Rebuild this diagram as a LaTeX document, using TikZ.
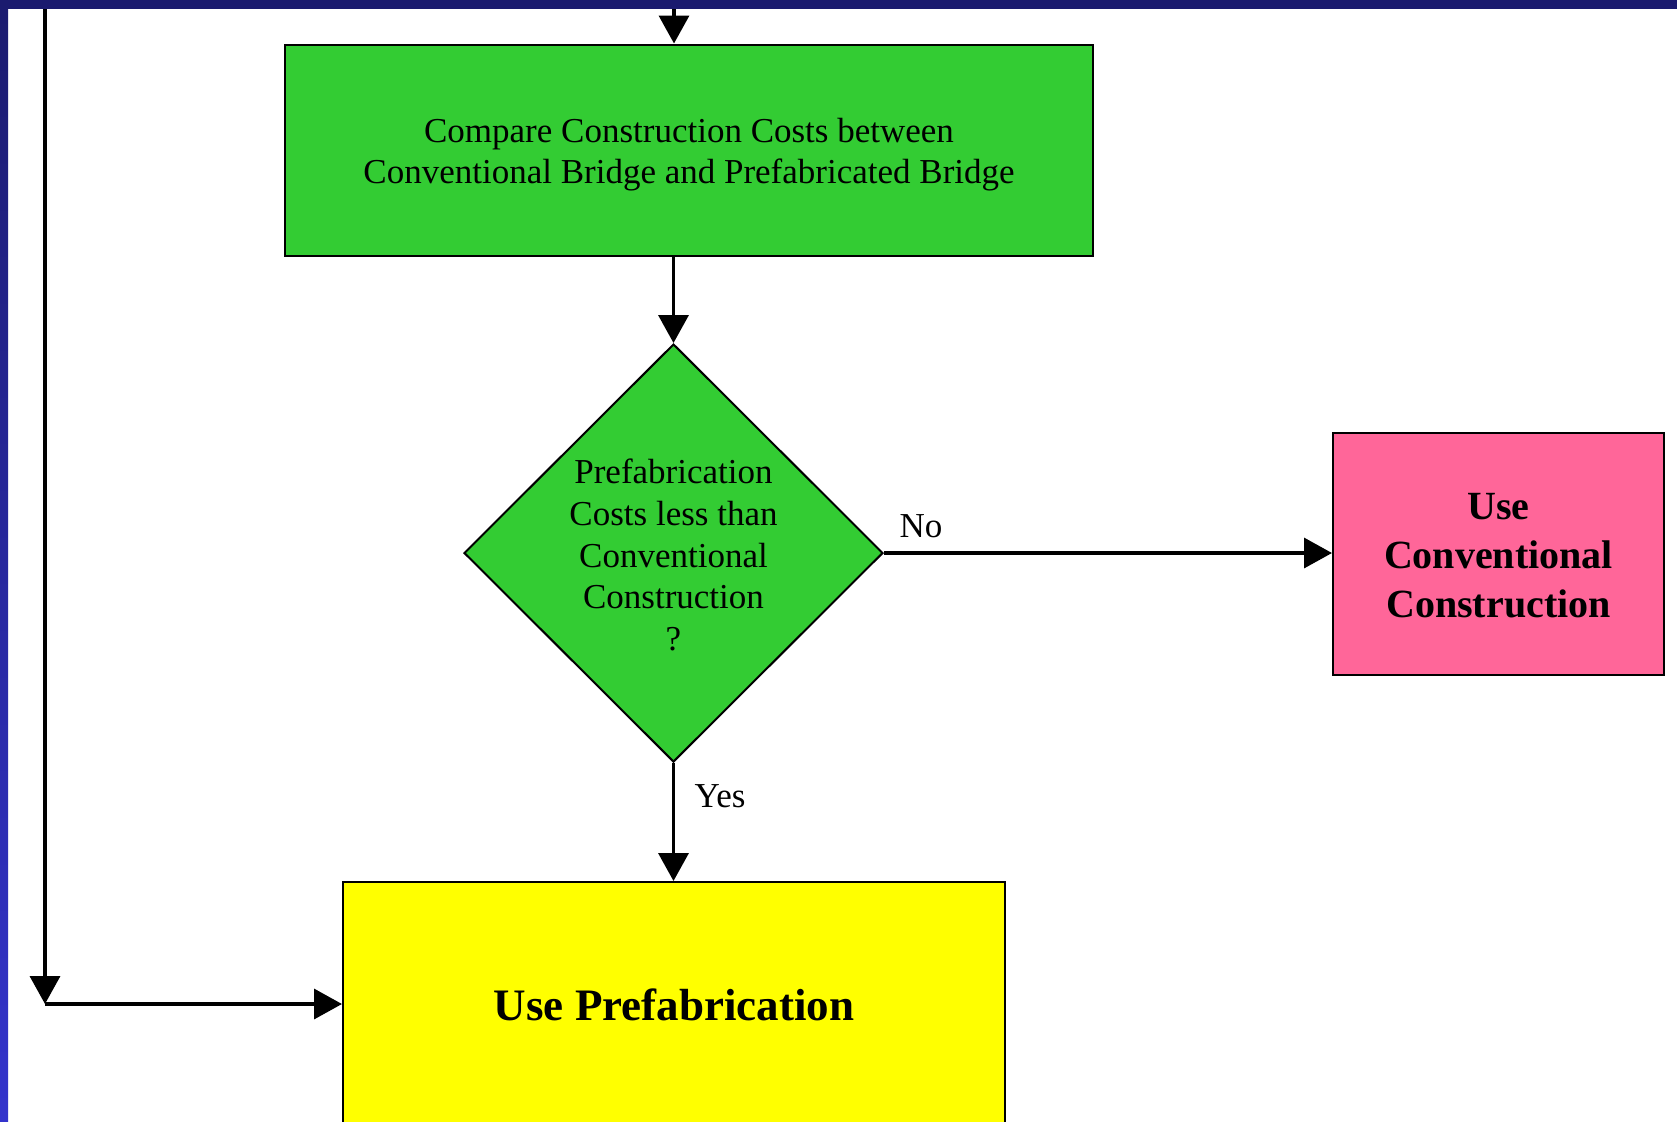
\documentclass[tikz,border=0pt]{standalone}
\usepackage{fontspec}
\setmainfont{Liberation Serif}
\usetikzlibrary{arrows.meta,shapes.geometric}

\definecolor{boxgreen}{HTML}{33CC33}
\definecolor{boxpink}{HTML}{FF6699}
\definecolor{boxyellow}{HTML}{FFFF00}
\definecolor{framenavy}{HTML}{1B1B6F}
\definecolor{frameblue}{HTML}{3333CC}

\tikzset{
  box/.style={draw=black, line width=1pt, rectangle, inner sep=0pt},
  decision/.style={draw=black, line width=1pt, diamond, inner sep=0pt, fill=boxgreen},
  plain/.style={font=\fontsize{17.5}{20.6}\selectfont, align=center, inner sep=0pt},
  strong/.style={font=\fontsize{20}{24.5}\selectfont\bfseries, align=center, inner sep=0pt},
  flow/.style={line width=1.75pt, -{Triangle[length=14pt,width=15pt]}},
  edgelabel/.style={font=\fontsize{17.5}{20.6}\selectfont, inner sep=0pt, anchor=base},
}

\begin{document}
\begin{tikzpicture}[x=0.5pt, y=-0.5pt]
  \useasboundingbox (0,0) rectangle (1677,1121);
  \clip (0,0) rectangle (1677,1121);
  \fill[white] (0,0) rectangle (1677,1121);

  % process box
  \node[box, fill=boxgreen, minimum width=404pt, minimum height=105.5pt] (cmp) at (689,150) {};
  \node[plain] (cmptext) at (689,155)
    {Compare Construction Costs between\\Conventional Bridge and Prefabricated Bridge};

  % decision
  \node[decision, minimum width=209.5pt, minimum height=209pt] (dia) at (673.5,553) {};
  \node[plain, font=\fontsize{17.5}{20.8}\selectfont] (diatext) at (673.5,555)
    {Prefabrication\\Costs less than\\Conventional\\Construction\\?};

  % outcomes
  \node[box, fill=boxpink, minimum width=165.5pt, minimum height=121pt] (conv) at (1498.5,554) {};
  \node[strong] (convtext) at (1498.5,556) {Use\\Conventional\\Construction};

  \node[box, fill=boxyellow, minimum width=331pt, minimum height=123pt] (pre) at (674,1005) {};
  \node[strong, font=\fontsize{22.5}{27}\selectfont\bfseries] (pretext) at (674,1005) {Use Prefabrication};

  % connectors
  \coordinate (entry) at (674,0);
  \coordinate (bypass) at (45,0);
  \coordinate (corner) at (45,1004);

  \draw[flow] (entry) -- (entry |- cmp.north);
  \draw[flow] (dia.north |- cmp.south) -- (dia.north);
  \draw[flow] (dia.east) -- (dia.east -| conv.west);
  \draw[flow] (dia.south) -- (dia.south |- pre.north);
  \draw[flow] (bypass) -- (corner);
  \draw[flow] (corner) -- (corner -| pre.west);

  \node[edgelabel] (nolabel) at (921,537) {No};
  \node[edgelabel] (yeslabel) at (720,807) {Yes};

  % frame
  \shade[top color=framenavy, bottom color=frameblue] (0,0) rectangle (8,1121);
  \fill[framenavy] (0,0) rectangle (1677,9);
\end{tikzpicture}
\end{document}
